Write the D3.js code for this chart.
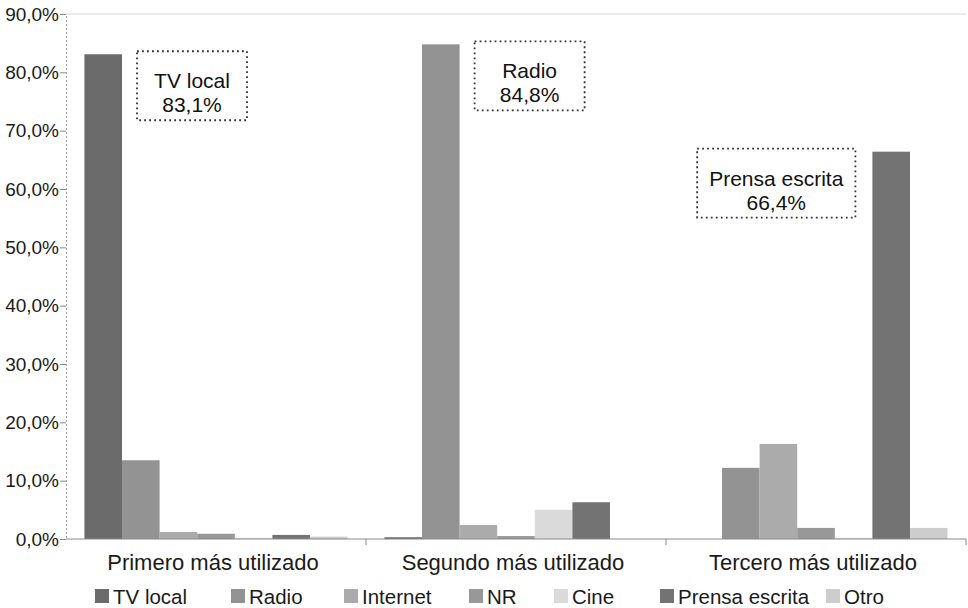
<!DOCTYPE html>
<html>
<head>
<meta charset="utf-8">
<script src="https://cdn.jsdelivr.net/npm/d3@7"></script>
<style>
  html, body { margin: 0; padding: 0; background: #fff; }
  svg { display: block; font-family: Arial, "Liberation Sans", sans-serif; }
</style>
</head>
<body>
<svg id="chart" width="968" height="608"></svg>
<script>
// Medio de comunicación más utilizado (primero, segundo y tercero)
const categories = ["Primero más utilizado", "Segundo más utilizado", "Tercero más utilizado"];
const series = ["TV local", "Radio", "Internet", "NR", "Cine", "Prensa escrita", "Otro"];

// Percentages per series, in category order
const tvLocal       = [83.1, 0.3, 0.0];
const radio         = [13.5, 84.8, 12.2];
const internet      = [1.2, 2.4, 16.3];
const nr            = [0.9, 0.5, 1.9];
const cine          = [0.2, 5.0, 0.2];
const prensaEscrita = [0.7, 6.3, 66.4];
const otro          = [0.4, 0.0, 1.9];
const values = [tvLocal, radio, internet, nr, cine, prensaEscrita, otro];

const colors = ["#6b6b6b", "#939393", "#ababab", "#989898", "#dadada", "#737373", "#cdcdcd"];

const yTicks = [0, 10, 20, 30, 40, 50, 60, 70, 80, 90];

// Callouts: [series index, category index, side]
const callouts = [
  { s: 0, c: 0, side: "right" },
  { s: 1, c: 1, side: "right" },
  { s: 5, c: 2, side: "left" }
];

const fmt = v => v.toFixed(1).replace(".", ",") + "%";

const svg = d3.select("#chart");
const plot = { left: 66, right: 966, top: 14, bottom: 539 };

const x0 = d3.scaleBand().domain(categories).range([plot.left, plot.right]).padding(0);
const x1 = d3.scaleBand().domain(series).range([0, x0.bandwidth()]).paddingInner(0).paddingOuter(0.49);
const y = d3.scaleLinear().domain([0, 90]).range([plot.bottom, plot.top]);

// Plot frame: faint top border
svg.append("line")
  .attr("x1", plot.left).attr("x2", plot.right)
  .attr("y1", plot.top).attr("y2", plot.top)
  .attr("stroke", "#d4d4d4").attr("stroke-width", 1);

// Bars
const groups = svg.append("g").selectAll("g")
  .data(categories)
  .join("g")
  .attr("transform", d => `translate(${x0(d)},0)`);

groups.selectAll("rect")
  .data((cat, ci) => series.map((s, si) => ({ s, si, v: values[si][ci] })))
  .join("rect")
  .attr("x", d => x1(d.s))
  .attr("width", x1.bandwidth())
  .attr("y", d => y(d.v))
  .attr("height", d => y(0) - y(d.v))
  .attr("fill", d => colors[d.si]);

// Y axis
const yAxis = d3.axisLeft(y)
  .tickValues(yTicks)
  .tickFormat(d => d.toFixed(1).replace(".", ",") + "%")
  .tickSize(6)
  .tickPadding(1);

const gy = svg.append("g")
  .attr("transform", `translate(${plot.left},0)`)
  .call(yAxis);
gy.select(".domain").attr("stroke", "#a0a0a0").attr("stroke-dasharray", "2,2");
gy.selectAll(".tick line").attr("stroke", "#888");
gy.selectAll(".tick text")
  .attr("fill", "#1a1a1a")
  .style("font-size", "19px")
  .style("font-family", "Arial, 'Liberation Sans', sans-serif");

// X axis baseline with ticks at category boundaries
const gx = svg.append("g")
  .attr("transform", `translate(0,${plot.bottom})`);
gx.append("line")
  .attr("x1", plot.left).attr("x2", plot.right)
  .attr("stroke", "#8a8a8a").attr("stroke-width", 1);
gx.selectAll("line.tk")
  .data(categories)
  .join("line")
  .attr("class", "tk")
  .attr("x1", d => x0(d) + x0.bandwidth())
  .attr("x2", d => x0(d) + x0.bandwidth())
  .attr("y1", 0).attr("y2", 6)
  .attr("stroke", "#888");
gx.selectAll("text")
  .data(categories)
  .join("text")
  .attr("x", d => x0(d) + x0.bandwidth() / 2 - 3)
  .attr("y", 31)
  .attr("text-anchor", "middle")
  .attr("fill", "#1a1a1a")
  .style("font-size", "22px")
  .text(d => d);

// Legend
const legendX = [95, 231, 344, 469, 554, 660, 826];
const legend = svg.append("g").attr("transform", "translate(0,596)");
const li = legend.selectAll("g")
  .data(series)
  .join("g")
  .attr("transform", (d, i) => `translate(${legendX[i]},0)`);
li.append("rect")
  .attr("x", 0).attr("y", -7)
  .attr("width", 14).attr("height", 14)
  .attr("fill", (d, i) => colors[i]);
li.append("text")
  .attr("x", 18).attr("y", 7.5)
  .attr("fill", "#1a1a1a")
  .style("font-size", "20.5px")
  .text(d => d);

// Callout boxes
const cg = svg.append("g");
callouts.forEach(co => {
  const s = series[co.s], cat = categories[co.c];
  const v = values[co.s][co.c];
  const barX = x0(cat) + x1(s);
  const barTop = y(v);
  const g = cg.append("g");
  const t1 = g.append("text").attr("text-anchor", "middle").attr("fill", "#111")
    .style("font-size", "21px").text(s);
  const t2 = g.append("text").attr("text-anchor", "middle").attr("fill", "#111")
    .style("font-size", "21px").text(fmt(v));
  const tw = Math.max(t1.node().getComputedTextLength(), t2.node().getComputedTextLength());
  const w = Math.max(tw + 24, 110);
  const h = 69;
  const bx = co.side === "right" ? barX + x1.bandwidth() + 15 : barX - 17 - w;
  const by = barTop - 3;
  g.insert("rect", "text")
    .attr("x", bx).attr("y", by).attr("width", w).attr("height", h)
    .attr("fill", "#fff")
    .attr("stroke", "#333").attr("stroke-width", 1.8)
    .attr("stroke-dasharray", "1.8,3.2");
  t1.attr("x", bx + w / 2).attr("y", by + 37);
  t2.attr("x", bx + w / 2).attr("y", by + 61);
});
</script>
</body>
</html>
